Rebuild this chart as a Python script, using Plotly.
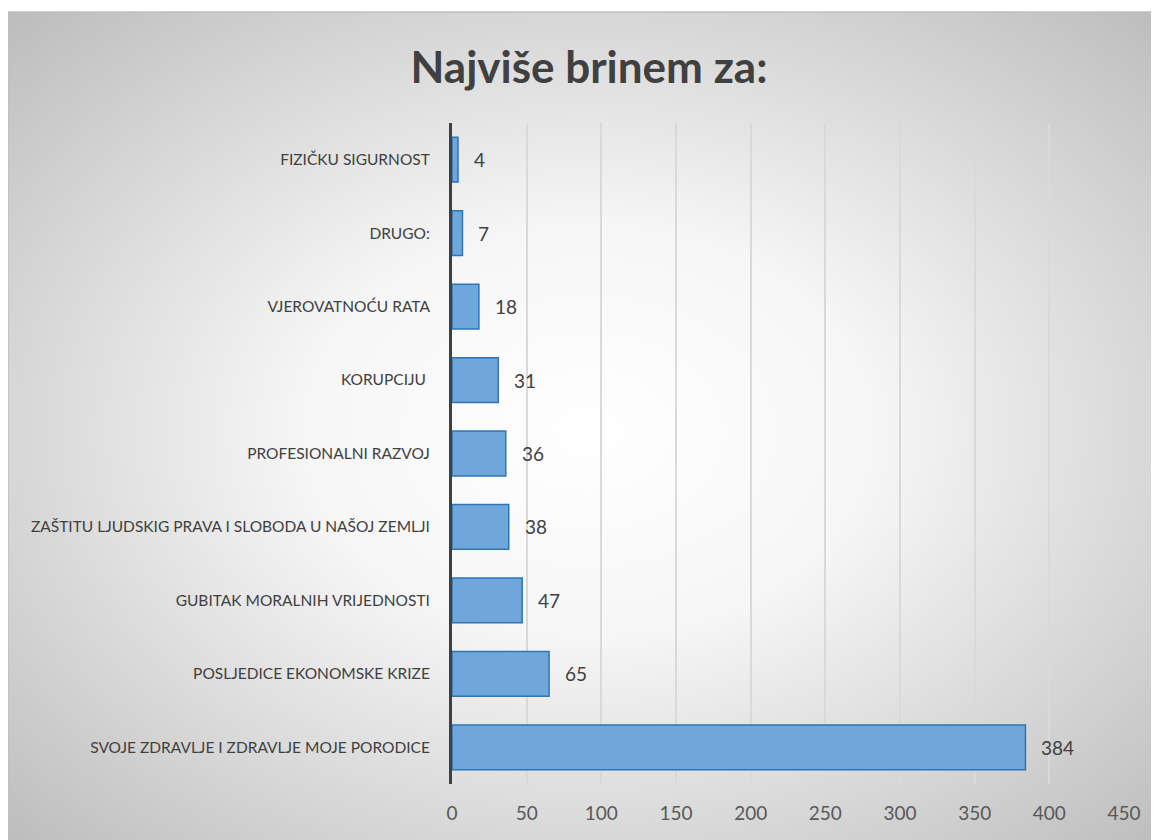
import base64
import plotly.graph_objects as go

categories = [
    "SVOJE ZDRAVLJE I ZDRAVLJE MOJE PORODICE",
    "POSLJEDICE EKONOMSKE KRIZE",
    "GUBITAK MORALNIH VRIJEDNOSTI",
    "ZAŠTITU LJUDSKIG PRAVA I SLOBODA U NAŠOJ ZEMLJI",
    "PROFESIONALNI RAZVOJ",
    "KORUPCIJU ",
    "VJEROVATNOĆU RATA",
    "DRUGO:",
    "FIZIČKU SIGURNOST",
]
values = [384, 65, 47, 38, 36, 31, 18, 7, 4]
x_ticks = [0, 50, 100, 150, 200, 250, 300, 350, 400, 450]
title_text = "Najviše brinem za:"

OFF = 8  # browser body margin
W, H = 1159 - OFF, 840 - OFF
L = 452 - OFF
T = 123 - OFF
R = 1159 - 1124
B = 840 - 784
pw, ph = W - L - R, H - T - B

svg = (
    "<svg xmlns='http://www.w3.org/2000/svg' width='1151' height='828' viewBox='0 0 1151 828' preserveAspectRatio='none'>"
    "<defs><radialGradient id='g' cx='50%' cy='50%' r='70%'>"
    "<stop offset='0%' stop-color='#ffffff'/>"
    "<stop offset='35%' stop-color='#f6f6f6'/>"
    "<stop offset='100%' stop-color='#bdbdbd'/>"
    "</radialGradient></defs>"
    "<rect width='1151' height='828' fill='url(#g)'/></svg>"
)
src = "data:image/svg+xml;base64," + base64.b64encode(svg.encode()).decode()

fx0 = (8 - OFF - L) / pw
fsx = (W + 10 - (8 - OFF)) / pw
fy0 = 1 + (T - (12 - OFF)) / ph
fsy = (H - (12 - OFF) + 10) / ph

fig = go.Figure()
fig.add_trace(go.Bar(
    y=categories, x=values, orientation="h",
    marker=dict(color="#70a7da", line=dict(color="#2e75b6", width=1.5)),
    width=0.61, hoverinfo="x+y",
))

annotations = [
    dict(x=v, y=c, xref="x", yref="y", text=str(v), showarrow=False,
         xanchor="left", xshift=14, font=dict(size=19, color="#404040", family="Lato"))
    for c, v in zip(categories, values)
]

fig.update_layout(
    width=W, height=H,
    margin=dict(l=L, r=R, t=T, b=B),
    paper_bgcolor="white",
    plot_bgcolor="rgba(0,0,0,0)",
    title=dict(text="<b>" + title_text + "</b>", x=(589 - OFF) / W, xanchor="center",
               y=1 - (68 - OFF) / H, yanchor="middle",
               font=dict(size=44, color="#404040", family="Lato")),
    showlegend=False,
    annotations=annotations,
    images=[dict(source=src, xref="paper", yref="paper", x=fx0, y=fy0,
                 sizex=fsx, sizey=fsy, sizing="stretch", layer="below",
                 xanchor="left", yanchor="top")],
    shapes=[dict(type="line", xref="paper", yref="paper", x0=fx0, x1=fx0 + fsx,
                 y0=fy0, y1=fy0, line=dict(color="#bfbfbf", width=1.5)),
            dict(type="line", xref="paper", yref="paper", x0=fx0, x1=fx0,
                 y0=fy0, y1=fy0 - fsy, line=dict(color="#bfbfbf", width=1.5))],
    xaxis=dict(range=[0, 450], tickvals=x_ticks, ticktext=[str(t) for t in x_ticks],
               showgrid=True, gridcolor="#d9d9d9", gridwidth=1.5, zeroline=False,
               showline=False, ticks="", ticklabelstandoff=16,
               tickfont=dict(size=19, color="#595959", family="Lato")),
    yaxis=dict(showline=True, linecolor="#404040", linewidth=3, showgrid=False,
               ticks="", ticklabelstandoff=16, zeroline=False,
               tickfont=dict(size=15.5, color="#404040", family="Lato")),
    bargap=0.39,
)

fig.write_html("out.html")
